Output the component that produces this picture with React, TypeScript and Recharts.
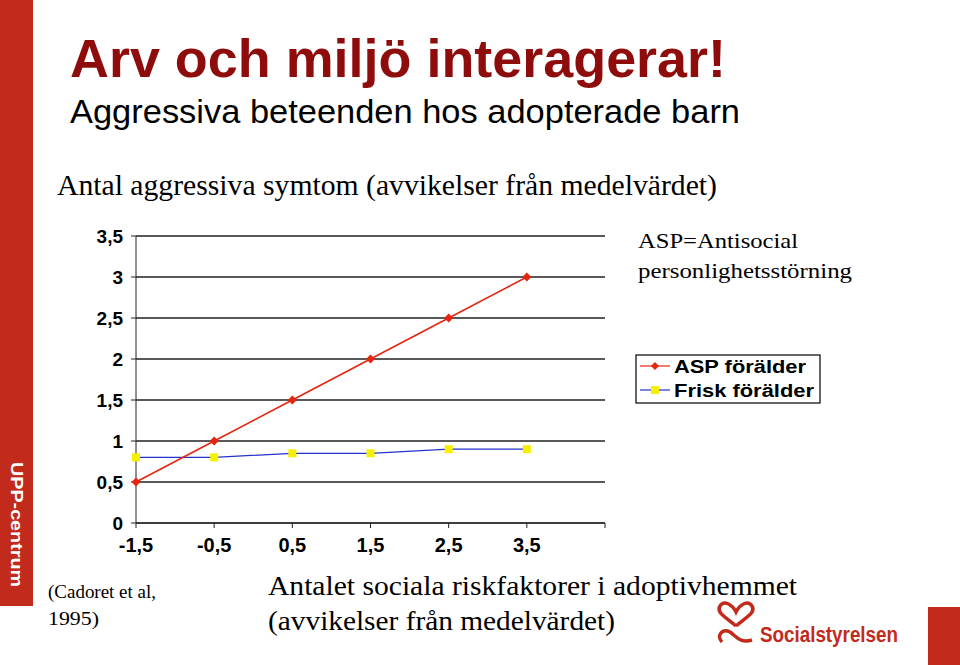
import { CartesianGrid, LineChart, Line, XAxis, YAxis } from "recharts";

const xValues = [-1.5, -0.5, 0.5, 1.5, 2.5, 3.5];
const aspValues = [0.5, 1, 1.5, 2, 2.5, 3];
const friskValues = [0.8, 0.8, 0.85, 0.85, 0.9, 0.9];
const xTicks = [-1.5, -0.5, 0.5, 1.5, 2.5, 3.5, 4.5];
const yTicks = [0, 0.5, 1, 1.5, 2, 2.5, 3, 3.5];

const data = xValues.map((x, i) => ({ x, asp: aspValues[i], frisk: friskValues[i] }));

const RED = "#c22a1b";
const DARK_RED = "#8e0c0c";
const SANS = "'Liberation Sans', Arial, sans-serif";
const SERIF = "'Liberation Serif', 'Times New Roman', serif";

const fmt = (v: number) => String(v).replace(".", ",");

const Diamond = (props: any) => {
  const { cx, cy } = props;
  if (cx == null || cy == null) return null;
  return <polygon points={`${cx},${cy - 4.5} ${cx + 4.5},${cy} ${cx},${cy + 4.5} ${cx - 4.5},${cy}`} fill="#e52510" />;
};

const Square = (props: any) => {
  const { cx, cy } = props;
  if (cx == null || cy == null) return null;
  return <rect x={cx - 4} y={cy - 4} width={8} height={8} fill="#f5f000" />;
};

// stretched text, like the original slide
const T = ({ x, y, w, size, children, font = SERIF, weight = 400, fill = "#000" }: any) => (
  <text x={x} y={y} textLength={w} lengthAdjust="spacingAndGlyphs" fontFamily={font} fontWeight={weight} fontSize={size} fill={fill}>
    {children}
  </text>
);

export default function App() {
  return (
    <div style={{ position: "absolute", left: 0, top: 0, width: 960, height: 665, background: "#fff", overflow: "hidden" }}>
      <div style={{ position: "absolute", left: 0, top: 0, width: 33, height: 606, background: RED }} />
      <div style={{ position: "absolute", left: 928, top: 607, width: 32, height: 58, background: RED }} />
      <div style={{ position: "absolute", left: 0, top: 0 }}>
        <LineChart width={960} height={665} data={data} margin={{ top: 236, right: 355, left: 76, bottom: 112 }}>
          <CartesianGrid vertical={false} stroke="#222" strokeWidth={1.3} />
          <XAxis
            type="number"
            dataKey="x"
            domain={[-1.5, 4.5]}
            ticks={xTicks}
            tickFormatter={(v) => (v === 4.5 ? "" : fmt(v))}
            stroke="#222"
            tickSize={5}
            tickMargin={10}
            tick={{ fontSize: 20, fontWeight: 700, fill: "#000", fontFamily: SANS }}
            height={30}
          />
          <YAxis
            type="number"
            domain={[0, 3.5]}
            ticks={yTicks}
            tickFormatter={fmt}
            stroke="#222"
            tickSize={5}
            tickMargin={8}
            tick={{ fontSize: 19, fontWeight: 700, fill: "#000", fontFamily: SANS }}
            width={60}
          />
          <Line dataKey="frisk" stroke="#2233cc" strokeWidth={1.2} dot={<Square />} isAnimationActive={false} />
          <Line dataKey="asp" stroke="#e52510" strokeWidth={1.6} dot={<Diamond />} isAnimationActive={false} />
        </LineChart>
      </div>
      <svg width={960} height={665} style={{ position: "absolute", left: 0, top: 0, pointerEvents: "none" }}>
        <T x={70} y={77} w={656} size={54} font={SANS} weight={700} fill={DARK_RED}>Arv och miljö interagerar!</T>
        <T x={70} y={123} w={670} size={34} font={SANS}>Aggressiva beteenden hos adopterade barn</T>
        <T x={57} y={195} w={660} size={29}>Antal aggressiva symtom (avvikelser från medelvärdet)</T>
        <T x={638} y={248} w={160} size={22}>ASP=Antisocial</T>
        <T x={638} y={278} w={214} size={22}>personlighetsstörning</T>
        <rect x={636} y={355} width={184} height={48} fill="#fff" stroke="#000" strokeWidth={1.2} />
        <line x1={640} y1={366} x2={670} y2={366} stroke="#e52510" strokeWidth={1.2} />
        <polygon points="655,362 659,366 655,370 651,366" fill="#e52510" />
        <T x={674} y={373} w={132} size={18} font={SANS} weight={700}>ASP förälder</T>
        <line x1={640} y1={390} x2={670} y2={390} stroke="#2233cc" strokeWidth={1.2} />
        <rect x={651} y={386} width={8} height={8} fill="#f5f000" />
        <T x={674} y={397} w={140} size={18} font={SANS} weight={700}>Frisk förälder</T>
        <T x={48} y={598} w={108} size={19}>(Cadoret et al,</T>
        <T x={48} y={625} w={51} size={19}>1995)</T>
        <T x={268} y={595} w={529} size={27}>Antalet sociala riskfaktorer i adoptivhemmet</T>
        <T x={268} y={630} w={347} size={27}>(avvikelser från medelvärdet)</T>
        <text
          transform="translate(11,524.5) rotate(90)"
          textAnchor="middle"
          textLength={125}
          lengthAdjust="spacingAndGlyphs"
          fontFamily={SANS}
          fontWeight={700}
          fontSize={17}
          fill="#fff"
        >
          UPP-centrum
        </text>
        <g fill="none" stroke={RED} strokeWidth={3.5}>
          <path d="M736,626 C724,616 716,612 720,606 C724,600 732,604 736,612 C740,604 748,600 752,606 C756,612 748,616 736,626" />
          <path d="M722,642 C716,636 722,628 730,632 C736,636 740,644 752,640" />
        </g>
        <T x={760} y={642} w={138} size={22} font={SANS} weight={700} fill={RED}>Socialstyrelsen</T>
      </svg>
    </div>
  );
}
